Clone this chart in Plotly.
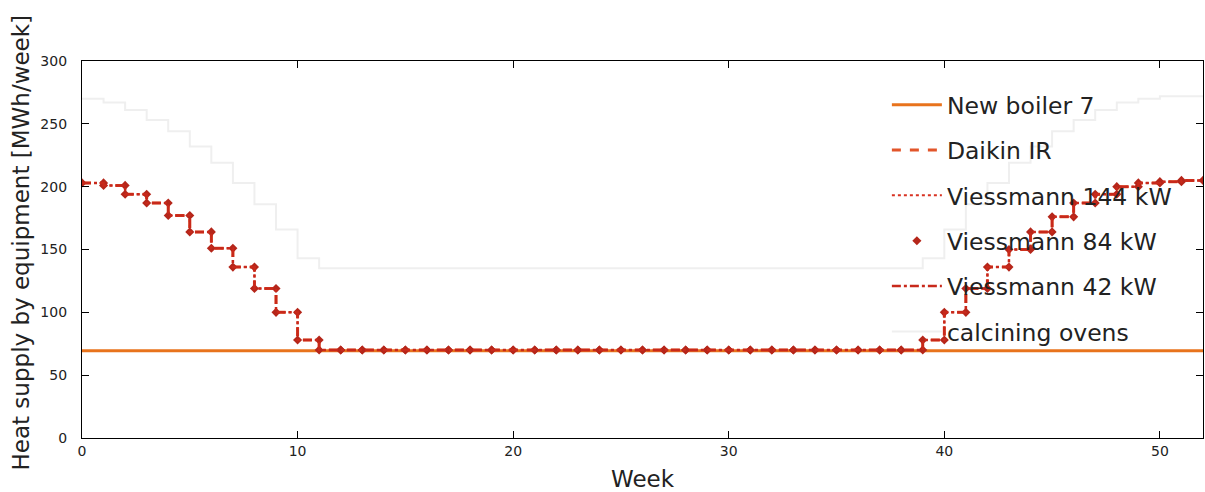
import plotly.graph_objects as go

# ---- data ----
weeks = list(range(0, 52))  # each value holds from week i to week i+1

new_boiler_7 = [69.5] * 52

# the four heat-pump / boiler series coincide on the picture
stacked_supply = [203, 201, 194, 187, 177, 164, 151, 136, 119, 100, 78,
                  70, 70, 70, 70, 70, 70, 70, 70, 70, 70, 70, 70, 70, 70,
                  70, 70, 70, 70, 70, 70, 70, 70, 70, 70, 70, 70, 70, 70,
                  78, 100, 119, 136, 150, 164, 176, 187, 194, 200, 203, 204, 205]

calcining_ovens = [270, 267, 261, 253, 244, 232, 219, 203, 186, 166, 143,
                   135, 135, 135, 135, 135, 135, 135, 135, 135, 135, 135, 135, 135, 135,
                   135, 135, 135, 135, 135, 135, 135, 135, 135, 135, 135, 135, 135, 135,
                   143, 166, 186, 203, 219, 232, 244, 253, 261, 267, 270, 272, 272]

series_names = ["New boiler 7", "Daikin IR", "Viessmann 144 kW",
                "Viessmann 84 kW", "Viessmann 42 kW", "calcining ovens"]

x_ticks = [0, 10, 20, 30, 40, 50]
y_ticks = [0, 50, 100, 150, 200, 250, 300]

y_title = "Heat supply by equipment [MWh/week]"
x_title = "Week"


def steps(xs, ys):
    """Duplicate vertices so each weekly value spans [week, week+1]."""
    sx, sy = [], []
    for x, y in zip(xs, ys):
        sx += [x, x + 1]
        sy += [y, y]
    return sx, sy


fig = go.Figure()

bx, by = steps(weeks, new_boiler_7)
fig.add_trace(go.Scatter(x=bx, y=by, mode="lines", name=series_names[0],
                         line=dict(color="#e8731c", width=3), legendgroup="a"))

sx, sy = steps(weeks, stacked_supply)
fig.add_trace(go.Scatter(x=sx, y=sy, mode="lines", name=series_names[1],
                         line=dict(color="#e2552a", width=3, dash="dash"), legendgroup="b"))
fig.add_trace(go.Scatter(x=sx, y=sy, mode="lines", name=series_names[2],
                         line=dict(color="#d83222", width=2, dash="dot"), legendgroup="c"))
fig.add_trace(go.Scatter(x=sx, y=sy, mode="markers", name=series_names[3],
                         marker=dict(symbol="diamond", size=7, color="#b5261a"), legendgroup="d"))
fig.add_trace(go.Scatter(x=sx, y=sy, mode="lines", name=series_names[4],
                         line=dict(color="#c8291b", width=2.5, dash="dashdot"), legendgroup="e"))

gx, gy = steps(weeks, calcining_ovens)
fig.add_trace(go.Scatter(x=gx, y=gy, mode="lines", name=series_names[5],
                         line=dict(color="#efefef", width=2), legendgroup="f"))

axis_common = dict(showline=True, linecolor="black", linewidth=1.2, mirror="ticks",
                   ticks="inside", ticklen=7, tickcolor="black", showgrid=False,
                   zeroline=False, automargin=False,
                   tickfont=dict(family="DejaVu Sans", size=14, color="#222"))

fig.update_xaxes(range=[0, 52], tickvals=x_ticks,
                 title=dict(text=x_title, font=dict(family="DejaVu Sans", size=23, color="#222"),
                            standoff=23), **axis_common)
fig.update_yaxes(range=[0, 300], tickvals=y_ticks, ticklabelstandoff=11, **axis_common)

fig.add_annotation(text=y_title, textangle=-90, showarrow=False,
                   xref="paper", yref="paper", x=0, y=0.5, xanchor="center", yanchor="middle",
                   xshift=-62, yshift=7,
                   font=dict(family="DejaVu Sans", size=23, color="#222"))

fig.update_layout(
    width=1205, height=492,
    margin=dict(l=82, r=2, t=61, b=54),
    paper_bgcolor="white", plot_bgcolor="white",
    font=dict(family="DejaVu Sans", color="#222"),
    showlegend=True,
    legend=dict(x=0.718, y=0.942, xanchor="left", yanchor="top",
                bgcolor="rgba(255,255,255,0)", borderwidth=0,
                font=dict(family="DejaVu Sans", size=23.5, color="#222"),
                tracegroupgap=11.8, itemwidth=50),
)

fig.write_html("out.html", config={"displayModeBar": False},
               post_script="document.body.style.margin='0';document.body.style.overflow='hidden';")
